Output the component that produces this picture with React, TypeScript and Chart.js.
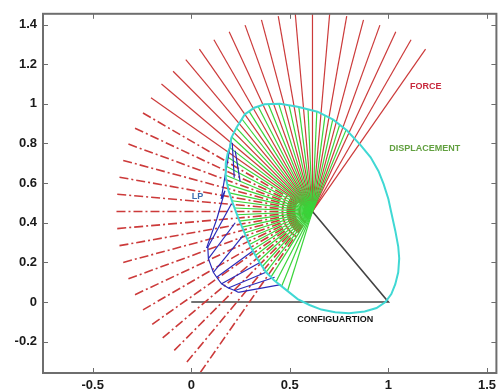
import React, { useEffect, useRef } from 'react';
import { Chart, registerables } from 'chart.js';
Chart.register(...registerables);

// ---- data ----
const originX = 0.615;
const originY = 0.457;
const forceLength = 1.0;
const forceSolidAngles = [55, 60, 65, 70, 75, 80, 85, 90, 95, 100, 105, 110, 115, 120, 125, 130, 135, 140, 145];
const forceDashAngles = [150, 155, 160, 165, 170, 175, 180, 185, 190, 195, 200, 205, 210, 215, 220, 225, 230, 235];
const dispAngles = [67.5, 72.5, 77.5, 82.5, 87.5, 92.5, 97.5, 102.5, 107.5, 112.5, 117.5, 122.5, 127.5, 132.5, 137.5, 142.5, 147.5, 152.5, 157.5, 162.5, 167.5, 172.5, 177.5, 182.5, 187.5, 192.5, 197.5, 202.5, 207.5, 212.5, 217.5, 222.5, 227.5, 232.5, 237.5, 242.5, 247.5, 252.5];

const cyanX = [0.196, 0.204, 0.23, 0.272, 0.32, 0.372, 0.45, 0.54, 0.64, 0.72, 0.79, 0.86, 0.91, 0.95, 0.976, 1.0, 1.015, 1.035, 1.05, 1.055, 1.05, 1.035, 1.015, 0.985, 0.94, 0.88, 0.8, 0.73, 0.66, 0.6, 0.54, 0.47, 0.42, 0.38, 0.34, 0.3, 0.27, 0.24, 0.21, 0.19, 0.175, 0.175, 0.185, 0.196];
const cyanY = [0.78, 0.83, 0.88, 0.947, 0.98, 0.998, 1.0, 0.985, 0.96, 0.92, 0.865, 0.79, 0.73, 0.66, 0.595, 0.52, 0.45, 0.36, 0.28, 0.22, 0.15, 0.09, 0.04, 0.0, -0.03, -0.048, -0.056, -0.052, -0.038, -0.015, 0.015, 0.07, 0.11, 0.15, 0.21, 0.28, 0.35, 0.42, 0.5, 0.56, 0.63, 0.7, 0.75, 0.78];

const lpStartX = [0.204, 0.208, 0.223, 0.084, 0.087, 0.112, 0.129, 0.154, 0.188, 0.221, 0.238];
const lpStartY = [0.828, 0.803, 0.763, 0.276, 0.219, 0.15, 0.125, 0.092, 0.071, 0.058, 0.049];
const lpEndX = [0.152, 0.218, 0.248, 0.204, 0.223, 0.263, 0.314, 0.349, 0.379, 0.423, 0.454];
const lpEndY = [0.521, 0.627, 0.607, 0.496, 0.4, 0.335, 0.259, 0.199, 0.15, 0.125, 0.088];
const lpChainX = [0.152, 0.171, 0.13, 0.079, 0.084, 0.087, 0.112, 0.129, 0.154, 0.188, 0.221, 0.238];
const lpChainY = [0.521, 0.561, 0.42, 0.276, 0.276, 0.219, 0.15, 0.125, 0.092, 0.071, 0.058, 0.049];

const configX = [0, 1, originX];
const configY = [0, 0, originY];

const xTicks = [-0.5, 0, 0.5, 1, 1.5];
const yTicks = [-0.2, 0, 0.2, 0.4, 0.6, 0.8, 1, 1.2, 1.4];

const labelTexts = ['FORCE', 'DISPLACEMENT', 'LP', 'CONFIGUARTION'];
const labelX = [1.19, 1.184, 0.032, 0.731];
const labelY = [1.085, 0.773, 0.531, -0.088];
const labelColors = ['#c8283c', '#62a040', '#3b6cb0', '#111111'];

// ---- helpers ----
const rad = (a: number) => (a * Math.PI) / 180;

function rayHit(theta: number): number {
  const dx = Math.cos(rad(theta));
  const dy = Math.sin(rad(theta));
  let best = Infinity;
  for (let i = 0; i < cyanX.length - 1; i++) {
    const ax = cyanX[i], ay = cyanY[i];
    const ex = cyanX[i + 1] - ax, ey = cyanY[i + 1] - ay;
    const den = dx * ey - dy * ex;
    if (Math.abs(den) < 1e-12) continue;
    const wx = ax - originX, wy = ay - originY;
    const t = (wx * ey - wy * ex) / den;
    const s = (wx * dy - wy * dx) / den;
    if (t > 0 && s >= 0 && s <= 1 && t < best) best = t;
  }
  return best === Infinity ? 0.3 : best;
}

function ray(theta: number, len: number) {
  return [
    { x: originX, y: originY },
    { x: originX + len * Math.cos(rad(theta)), y: originY + len * Math.sin(rad(theta)) },
  ];
}

const base = { showLine: true, pointRadius: 0, pointHoverRadius: 0, tension: 0, fill: false };

const framePlugin = {
  id: 'frame',
  afterDatasetsDraw(chart: any) {
    const { ctx, chartArea: a, scales } = chart;
    ctx.save();
    ctx.strokeStyle = '#6e6e6e';
    ctx.lineWidth = 1;
    ctx.beginPath();
    xTicks.forEach((v) => {
      const px = Math.round(scales.x.getPixelForValue(v)) + 0.5;
      ctx.moveTo(px, a.bottom);
      ctx.lineTo(px, a.bottom - 5);
      ctx.moveTo(px, a.top);
      ctx.lineTo(px, a.top + 5);
    });
    yTicks.forEach((v) => {
      const py = Math.round(scales.y.getPixelForValue(v)) + 0.5;
      ctx.moveTo(a.left, py);
      ctx.lineTo(a.left + 5, py);
      ctx.moveTo(a.right, py);
      ctx.lineTo(a.right - 5, py);
    });
    ctx.stroke();
    ctx.lineWidth = 2;
    ctx.strokeRect(a.left, a.top, a.right - a.left, a.bottom - a.top);
    ctx.font = 'bold 9px "Liberation Sans", Arial, sans-serif';
    ctx.textAlign = 'center';
    ctx.textBaseline = 'middle';
    labelTexts.forEach((t, i) => {
      ctx.fillStyle = labelColors[i];
      ctx.fillText(t, scales.x.getPixelForValue(labelX[i]), scales.y.getPixelForValue(labelY[i]));
    });
    ctx.restore();
  },
};

export default function App() {
  const ref = useRef<HTMLCanvasElement>(null);
  useEffect(() => {
    const datasets: any[] = [];
    // cyan
    datasets.push({
      ...base,
      data: cyanX.map((x, i) => ({ x, y: cyanY[i] })),
      borderColor: '#40d8d4',
      borderWidth: 2,
      order: 0,
    });
    // LP blue
    lpStartX.forEach((x, i) => {
      datasets.push({
        ...base,
        data: [{ x, y: lpStartY[i] }, { x: lpEndX[i], y: lpEndY[i] }],
        borderColor: '#2a2ab8',
        borderWidth: 1.2,
        order: 1,
      });
    });
    datasets.push({
      ...base,
      data: lpChainX.map((x, i) => ({ x, y: lpChainY[i] })),
      borderColor: '#2a2ab8',
      borderWidth: 1.2,
      order: 1,
    });
    // displacement (drawn over force)
    dispAngles.forEach((a) => {
      datasets.push({ ...base, data: ray(a, rayHit(a)), borderColor: '#3ad43a', borderWidth: 1.2, order: 2 });
    });
    // force
    forceSolidAngles.forEach((a) => {
      datasets.push({ ...base, data: ray(a, forceLength), borderColor: '#cc3a3a', borderWidth: 1.2, order: 3 });
    });
    forceDashAngles.forEach((a) => {
      datasets.push({
        ...base,
        data: ray(a, forceLength),
        borderColor: '#cc3a3a',
        borderWidth: 1.6,
        borderDash: [9, 3, 2, 3],
        order: 3,
      });
    });
    // configuration
    datasets.push({
      ...base,
      data: configX.map((x, i) => ({ x, y: configY[i] })),
      borderColor: '#444444',
      borderWidth: 1.6,
      order: 4,
    });

    const chart = new Chart(ref.current as HTMLCanvasElement, {
      type: 'scatter',
      data: { datasets },
      options: {
        animation: false,
        responsive: false,
        maintainAspectRatio: false,
        events: [],
        layout: { padding: { left: 0, right: 1, top: 13, bottom: 0 } },
        plugins: { legend: { display: false }, tooltip: { enabled: false } },
        scales: {
          x: {
            type: 'linear',
            min: -0.752,
            max: 1.548,
            grid: { display: false, drawTicks: false },
            border: { display: false },
            afterBuildTicks: (s: any) => { s.ticks = xTicks.map((v) => ({ value: v })); },
            afterFit: (s: any) => { s.height = 27; },
            ticks: {
              padding: 5,
              autoSkip: false,
              maxRotation: 0,
              color: '#1a1a1a',
              font: { family: '"Liberation Sans", Arial, sans-serif', size: 13, weight: 'bold' },
              callback: (v: any) => String(v),
            },
          },
          y: {
            type: 'linear',
            min: -0.358,
            max: 1.454,
            grid: { display: false, drawTicks: false },
            border: { display: false },
            afterBuildTicks: (s: any) => { s.ticks = yTicks.map((v) => ({ value: v })); },
            afterFit: (s: any) => { s.width = 43; },
            ticks: {
              padding: 6,
              autoSkip: false,
              color: '#1a1a1a',
              font: { family: '"Liberation Sans", Arial, sans-serif', size: 13, weight: 'bold' },
              callback: (v: any) => String(v),
            },
          },
        },
      },
      plugins: [framePlugin],
    } as any);
    return () => chart.destroy();
  }, []);
  return (
    <div style={{ position: 'fixed', left: 0, top: 0, width: 501, height: 400, background: '#fff' }}>
      <canvas ref={ref} width={501} height={400} style={{ display: 'block' }} />
    </div>
  );
}
